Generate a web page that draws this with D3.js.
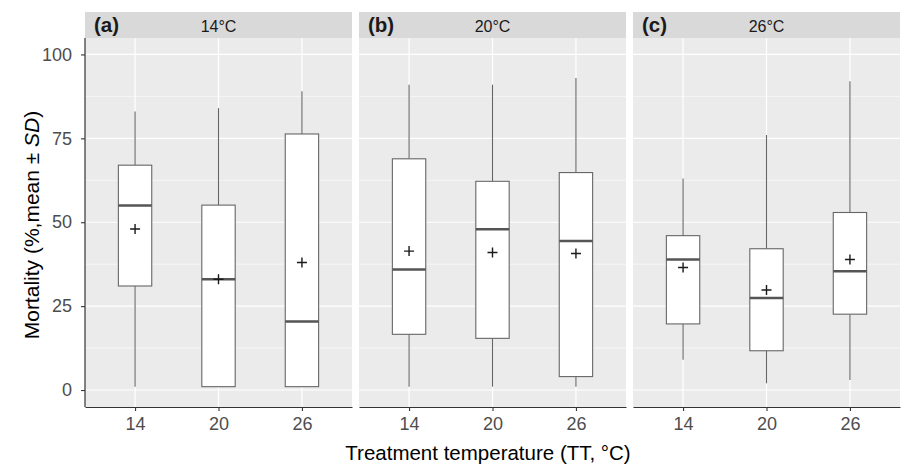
<!DOCTYPE html>
<html>
<head>
<meta charset="utf-8">
<script src="https://cdn.jsdelivr.net/npm/d3@7"></script>
<style>
  body { margin: 0; background: #fff; }
  text { font-family: "Liberation Sans", Arial, sans-serif; }
</style>
</head>
<body>
<svg width="901" height="466"></svg>
<script>
// Panels (rearing temperature) and treatment temperatures
const panelLabels = ["14°C", "20°C", "26°C"];
const panelTags = ["(a)", "(b)", "(c)"];
const treatments = ["14", "20", "26"];

// Box statistics per panel, one value per treatment
const whiskerLow = [[1, 1, 1], [1, 1, 1], [9, 2, 3]];
const q1 = [[31, 1, 1], [16.6, 15.4, 4], [19.7, 11.7, 22.6]];
const median = [[55, 33, 20.4], [35.9, 47.9, 44.4], [38.9, 27.4, 35.4]];
const q3 = [[67, 55.1, 76.3], [68.9, 62.2, 64.8], [46, 42.1, 52.9]];
const whiskerHigh = [[83, 84, 89], [91, 91, 93], [63, 76, 92]];
const means = [[48, 33, 38], [41.4, 41, 40.7], [36.5, 29.8, 38.9]];

const yTicks = [0, 25, 50, 75, 100];
const yMinor = [12.5, 37.5, 62.5, 87.5];

const svg = d3.select("svg");

// Layout of the facet panels
const panelLeft = [85, 359, 633];
const panelWidth = 267;
const stripTop = 12, stripBottom = 38, panelBottom = 407;
const font = "Liberation Sans, Arial, sans-serif";

const y = d3.scaleLinear().domain([-5.06, 104.9]).range([panelBottom, stripBottom]);

panelLabels.forEach((label, p) => {
    const g = svg.append("g").attr("transform", `translate(${panelLeft[p]},0)`);

    const x = d3.scalePoint().domain(treatments).range([0, panelWidth]).padding(0.6);
    const boxW = x.step() * 0.4;

    // Panel background
    g.append("rect")
        .attr("x", 0).attr("y", stripBottom)
        .attr("width", panelWidth).attr("height", panelBottom - stripBottom)
        .attr("fill", "#EBEBEB");

    // Minor and major grid lines
    g.selectAll(".minor").data(yMinor).enter().append("line")
        .attr("x1", 0).attr("x2", panelWidth)
        .attr("y1", d => y(d)).attr("y2", d => y(d))
        .attr("stroke", "#fff").attr("stroke-width", 0.6);
    g.selectAll(".major").data(yTicks).enter().append("line")
        .attr("x1", 0).attr("x2", panelWidth)
        .attr("y1", d => y(d)).attr("y2", d => y(d))
        .attr("stroke", "#fff").attr("stroke-width", 1.2);
    g.selectAll(".vmajor").data(treatments).enter().append("line")
        .attr("x1", d => x(d)).attr("x2", d => x(d))
        .attr("y1", stripBottom).attr("y2", panelBottom)
        .attr("stroke", "#fff").attr("stroke-width", 1.2);

    // Strip
    g.append("rect")
        .attr("x", 0).attr("y", stripTop)
        .attr("width", panelWidth).attr("height", stripBottom - stripTop)
        .attr("fill", "#D9D9D9");
    g.append("text")
        .attr("x", panelWidth / 2).attr("y", 31.5)
        .attr("text-anchor", "middle")
        .attr("font-size", 16).attr("fill", "#1a1a1a")
        .text(label);
    g.append("text")
        .attr("x", 9).attr("y", 31.5)
        .attr("font-size", 20.5).attr("font-weight", "bold").attr("fill", "#1a1a1a")
        .text(panelTags[p]);

    // Boxplots
    treatments.forEach((t, i) => {
        const cx = x(t);
        const col = "#666";
        g.append("line")
            .attr("x1", cx).attr("x2", cx)
            .attr("y1", y(whiskerHigh[p][i])).attr("y2", y(q3[p][i]))
            .attr("stroke", col).attr("stroke-width", 1.1);
        g.append("line")
            .attr("x1", cx).attr("x2", cx)
            .attr("y1", y(q1[p][i])).attr("y2", y(whiskerLow[p][i]))
            .attr("stroke", col).attr("stroke-width", 1.1);
        g.append("rect")
            .attr("x", cx - boxW / 2).attr("y", y(q3[p][i]))
            .attr("width", boxW).attr("height", y(q1[p][i]) - y(q3[p][i]))
            .attr("fill", "#fff").attr("stroke", col).attr("stroke-width", 1.1);
        g.append("line")
            .attr("x1", cx - boxW / 2).attr("x2", cx + boxW / 2)
            .attr("y1", y(median[p][i])).attr("y2", y(median[p][i]))
            .attr("stroke", "#555").attr("stroke-width", 2.4);
        // Mean marker
        const my = y(means[p][i]);
        g.append("path")
            .attr("d", `M${cx - 5},${my}H${cx + 5}M${cx},${my - 5}V${my + 5}`)
            .attr("stroke", "#1a1a1a").attr("stroke-width", 1.4);
    });

    // Bottom axis
    const xAxis = g.append("g")
        .attr("transform", `translate(0,${panelBottom})`)
        .call(d3.axisBottom(x).tickSize(4).tickSizeOuter(0).tickPadding(6));
    xAxis.select(".domain").attr("stroke", "#333").attr("stroke-width", 1.2);
    xAxis.selectAll(".tick line").attr("stroke", "#333").attr("stroke-width", 1.1);
    xAxis.selectAll(".tick text")
        .attr("font-size", 18).attr("fill", "#4d4d4d").attr("font-family", font);

    if (p === 0) {
        const yAxis = g.append("g")
            .call(d3.axisLeft(y).tickValues(yTicks).tickSize(4).tickSizeOuter(0).tickPadding(9));
        yAxis.select(".domain").attr("stroke", "#333").attr("stroke-width", 1.2)
            .attr("d", `M0,${stripBottom}V${panelBottom}`);
        yAxis.selectAll(".tick line").attr("stroke", "#333").attr("stroke-width", 1.1);
        yAxis.selectAll(".tick text")
            .attr("font-size", 18).attr("fill", "#4d4d4d").attr("font-family", font);
    }
});

// Axis titles
svg.append("text")
    .attr("x", 488).attr("y", 460)
    .attr("text-anchor", "middle")
    .attr("font-size", 20.5).attr("fill", "#000")
    .text("Treatment temperature (TT, °C)");

const yTitle = svg.append("text")
    .attr("transform", `translate(39,225) rotate(-90)`)
    .attr("text-anchor", "middle")
    .attr("font-size", 21).attr("fill", "#000");
yTitle.append("tspan").text("Mortality (%,mean ± ");
yTitle.append("tspan").attr("font-style", "italic").text("SD");
yTitle.append("tspan").text(")");
</script>
</body>
</html>
